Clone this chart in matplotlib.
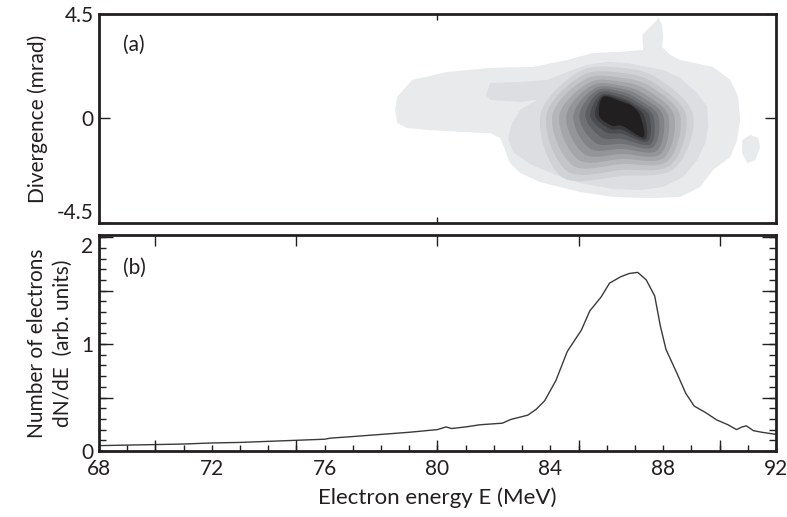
import numpy as np
import matplotlib
matplotlib.use('Agg')
import matplotlib.pyplot as plt
from matplotlib.path import Path
from matplotlib.patches import PathPatch, Polygon
from matplotlib.ticker import MultipleLocator, FuncFormatter

plt.rcParams['font.family'] = ['Lato', 'DejaVu Sans']

# ---- (b) spectrum ----
energy = [68, 69, 70, 71, 72, 73, 74, 75, 76, 76.2, 77, 78, 79, 80, 80.3, 80.5,
          81, 81.5, 82.3, 82.6, 83.2, 83.5, 83.8, 84.2, 84.6, 85.1, 85.4, 85.8,
          86.1, 86.5, 86.8, 87.1, 87.4, 87.7, 87.9, 88.1, 88.5, 88.8, 89.1, 89.5,
          89.9, 90.3, 90.6, 90.8, 90.95, 91.2, 91.5, 92]
dnde = [0.05, 0.055, 0.06, 0.065, 0.075, 0.08, 0.09, 0.1, 0.11, 0.12, 0.135,
        0.155, 0.175, 0.2, 0.225, 0.21, 0.225, 0.245, 0.26, 0.295, 0.335, 0.39,
        0.47, 0.66, 0.93, 1.13, 1.31, 1.44, 1.57, 1.63, 1.66, 1.67, 1.6, 1.45,
        1.17, 0.95, 0.72, 0.54, 0.42, 0.36, 0.29, 0.245, 0.2, 0.225, 0.235,
        0.19, 0.175, 0.155]

# ---- (a) beam profile: outer halo outlines (E in MeV, divergence in mrad) ----
halo_E = [78.50, 78.57, 79.10, 80.34, 81.87, 83.39, 84.60, 85.52, 86.48, 87.29,
          87.26, 87.43, 87.79, 87.82, 87.96, 88.00, 87.96, 88.07, 88.25, 88.60,
          89.77, 90.38, 90.66, 90.73, 90.62, 90.38, 89.77, 89.31, 88.60, 87.65,
          86.23, 85.06, 83.64, 82.93, 82.57, 82.40, 82.22, 81.87, 80.91, 79.74,
          78.92, 78.57]
halo_div = [0.37, 0.93, 1.66, 2.00, 2.18, 2.22, 2.52, 2.82, 2.87, 2.95,
            3.60, 3.81, 4.25, 4.38, 4.03, 3.51, 3.08, 2.95, 2.74, 2.52,
            2.22, 1.66, 0.93, -0.06, -0.93, -1.66, -2.22, -2.95, -3.38, -3.43,
            -3.38, -3.17, -2.74, -2.35, -1.92, -1.36, -0.84, -0.63, -0.58, -0.50,
            -0.41, -0.19]
island_E = [90.80, 91.09, 91.37, 91.44, 91.26, 90.98, 90.80]
island_div = [-0.93, -0.71, -0.84, -1.23, -1.79, -1.92, -1.49]
shelf_E = [81.72, 81.87, 82.93, 83.89, 84.60, 85.30, 86.01, 86.72, 87.43, 88.00,
           88.60, 89.21, 89.56, 89.60, 89.49, 89.21, 88.71, 88.00, 87.18, 86.23,
           85.06, 84.10, 83.28, 82.68, 82.50, 82.65, 82.93, 83.53, 82.93, 81.87]
shelf_div = [1.01, 1.53, 1.57, 1.66, 2.00, 2.31, 2.44, 2.39, 2.22, 2.09,
             1.75, 1.10, 0.50, -0.37, -1.06, -1.79, -2.52, -2.95, -3.08, -3.04,
             -2.78, -2.39, -1.96, -1.44, -0.84, -0.19, 0.37, 0.80, 0.71, 0.80]

# inner contour levels: radii (detector px) toward E, NE, N, NW, W, SW, S, SE
spot_center = (86.55, 0.11)
spot_radii = [
    [71, 52, 48, 62, 82, 86, 60, 74],
    [64, 46, 43, 57, 76, 78, 54, 69],
    [58, 41, 38, 52, 70, 70, 48, 64],
    [52, 36, 34, 47, 63, 62, 43, 59],
    [46, 31, 30, 43, 56, 54, 38, 54],
    [41, 27, 27, 39, 49, 46, 33, 49],
    [36, 23, 24, 36, 43, 38, 28, 44],
    [31, 20, 21, 33, 37, 30, 23, 40],
    [27, 17, 18, 30, 32, 23, 18, 36],
    [22, 15, 16, 28, 27, 18, 14, 33],
    [18, 14, 14, 27, 23, 14, 10, 30],
]
mev_per_px = 24 / 677
mrad_per_px = 9 / 209
level_colors = ['#d1d2d6', '#c4c5c9', '#b5b6ba', '#a5a6aa', '#949599',
                '#828387', '#707175', '#5e5f63', '#4c4d51', '#3a3a3d', '#221f20']


def smooth_closed(xs, ys):
    # closed Catmull-Rom outline as cubic bezier path
    p = np.column_stack([xs, ys])
    n = len(p)
    verts = [p[0]]
    codes = [Path.MOVETO]
    for i in range(n):
        p0, p1, p2, p3 = p[i - 1], p[i], p[(i + 1) % n], p[(i + 2) % n]
        verts += [p1 + (p2 - p0) / 6, p2 - (p3 - p1) / 6, p2]
        codes += [Path.CURVE4] * 3
    return Path(verts, codes)


ink = '#231f20'
fig = plt.figure(figsize=(7.87, 5.17), dpi=100)
axa = fig.add_axes([0.1258, 0.5687, 0.8602, 0.4043])
axb = fig.add_axes([0.1258, 0.1277, 0.8602, 0.4178])

# ---- panel (a) ----
axa.add_patch(Polygon(np.column_stack([halo_E, halo_div]), closed=True,
                      fc='#e9eaec', ec='none'))
axa.add_patch(Polygon(np.column_stack([island_E, island_div]), closed=True,
                      fc='#e9eaec', ec='none'))
axa.add_patch(Polygon(np.column_stack([shelf_E, shelf_div]), closed=True,
                      fc='#dddee2', ec='none'))
ang = np.deg2rad(np.arange(0, 360, 45))
for radii, col in zip(spot_radii, level_colors):
    r = np.array(radii, dtype=float)
    xs = spot_center[0] + r * np.cos(ang) * mev_per_px
    ys = spot_center[1] + r * np.sin(ang) * mrad_per_px
    axa.add_patch(PathPatch(smooth_closed(xs, ys), fc=col, ec='none'))

axa.set_xlim(68, 92)
axa.set_ylim(-4.5, 4.5)
axa.set_xticks([80])
axa.set_yticks([-4.5, 0, 4.5])
axa.set_yticklabels(['-4.5', '0', '4.5'])
axa.tick_params(axis='x', direction='in', top=True, bottom=True, length=4,
                width=1, color=ink, labelbottom=False)
axa.tick_params(axis='y', direction='in', left=True, right=True, length=8,
                width=1, color=ink, labelsize=15, pad=4, labelcolor=ink)
axa.get_yticklabels()[0].set_va('bottom')
axa.set_ylabel('Divergence (mrad)', fontsize=15, color=ink, labelpad=6)
axa.text(0.035, 0.85, '(a)', transform=axa.transAxes, fontsize=15, color=ink,
         va='center')

# ---- panel (b) ----
axb.plot(energy, dnde, color='#3a3a3a', lw=1.0)
axb.set_xlim(68, 92)
axb.set_ylim(0, 2.02)
axb.xaxis.remove_overlapping_locs = False
axb.yaxis.remove_overlapping_locs = False
axb.set_xticks(np.arange(68, 93, 4))
axb.xaxis.set_minor_locator(MultipleLocator(1))
axb.set_yticks(np.arange(0, 2.01, 0.5))
axb.set_yticklabels(['0', '', '1', '', '2'])
axb.yaxis.set_minor_locator(MultipleLocator(0.1))
axb.tick_params(axis='x', which='major', length=0, labelsize=15, pad=6,
                labelcolor=ink)
axb.tick_params(axis='x', which='minor', direction='in', top=True, bottom=True,
                length=4, width=1, color=ink)
axb.tick_params(axis='y', which='major', direction='in', left=True, right=True,
                length=10, width=1, color=ink, labelsize=15, pad=4, labelcolor=ink)
axb.tick_params(axis='y', which='minor', direction='in', left=True, right=True,
                length=5, width=1, color=ink)
axb.get_yticklabels()[4].set_va('top')
axb.set_xlabel('Electron energy E (MeV)', fontsize=16, color=ink, labelpad=6)
axb.set_ylabel('Number of electrons\ndN/dE  (arb. units)', fontsize=15,
               color=ink, labelpad=6, linespacing=1.35)
axb.text(0.035, 0.85, '(b)', transform=axb.transAxes, fontsize=15, color=ink,
         va='center')

# long ticks every 5 MeV
axt = axb.twiny()
axt.set_xlim(68, 92)
axt.set_xticks(np.arange(70, 91, 5))
axt.tick_params(axis='x', direction='in', top=True, bottom=True, length=8,
                width=1, color=ink, labeltop=False, labelbottom=False)
axt.set_frame_on(False)

for ax in (axa, axb):
    for s in ax.spines.values():
        s.set_linewidth(2)
        s.set_color(ink)

fig.savefig('out.png', dpi=100)
